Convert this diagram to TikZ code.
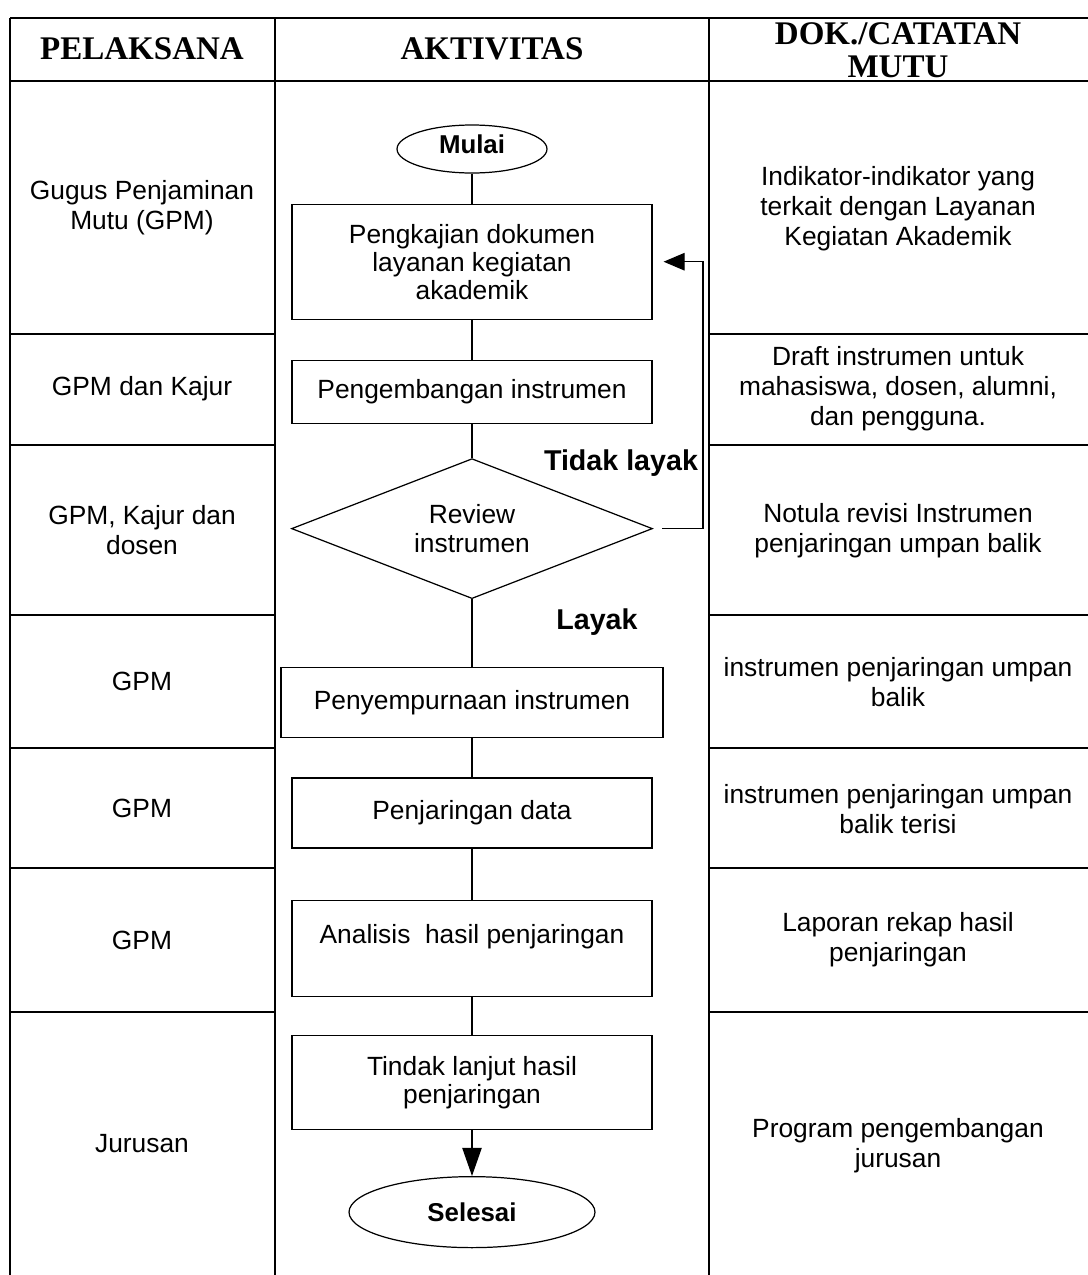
\documentclass[tikz,border=0pt]{standalone}
\usepackage{fontspec}
\setmainfont{Liberation Sans}
\newfontfamily\judulfont{Liberation Serif}
\usepackage{tikz}
\usetikzlibrary{shapes.geometric, arrows.meta, positioning}
\tikzset{
  tabel/.style={line width=1.3pt, draw=black},
  judul/.style={font=\judulfont\bfseries\fontsize{18.8}{19}\selectfont, align=center},
  sel/.style={font=\fontsize{15}{17}\selectfont, align=center},
  terminal/.style={ellipse, draw, line width=0.7pt, inner sep=0pt,
                   font=\bfseries\fontsize{14.7}{16}\selectfont},
  proses/.style={rectangle, draw, line width=0.7pt, inner sep=0pt, align=center,
                 minimum width=7.2cm, font=\fontsize{15}{16}\selectfont},
  keputusan/.style={diamond, draw, line width=0.7pt, inner sep=0pt, aspect=2.58,
                    minimum width=7.22cm, minimum height=2.8cm, align=center,
                    font=\fontsize{15}{16}\selectfont},
  ket/.style={font=\bfseries\fontsize{16.3}{18}\selectfont},
  alur/.style={line width=0.7pt},
  arrow/.style={-{Triangle[length=12pt, width=10pt]}, line width=0.7pt},
}

\begin{document}
\begin{tikzpicture}[x=0.02cm, y=-0.02cm]

  \useasboundingbox (0,0) rectangle (1088,1275);

  % ── Table grid ───────────────────────────────────────────────────────
  \draw[tabel] (10,18) -- (1088,18)
               (10,81) -- (1088,81)
               (10,18) -- (10,1275)
               (275,18) -- (275,1275)
               (709,18) -- (709,1275);
  \draw[tabel] (10,334) -- (275,334)   (709,334) -- (1088,334)
               (10,445) -- (275,445)   (709,445) -- (1088,445)
               (10,615) -- (275,615)   (709,615) -- (1088,615)
               (10,748) -- (275,748)   (709,748) -- (1088,748)
               (10,868) -- (275,868)   (709,868) -- (1088,868)
               (10,1012) -- (275,1012) (709,1012) -- (1088,1012);

  % ── Headers ──────────────────────────────────────────────────────────
  \node[judul] (hpel) at (142,49) {PELAKSANA};
  \node[judul] (hakt) at (492,49) {AKTIVITAS};
  \node[judul] (hdok) at (898,50) {DOK./CATATAN\\MUTU};

  % ── Pelaksana ────────────────────────────────────────────────────────
  \node[sel] (p1) at (142,208) {Gugus Penjaminan\\Mutu (GPM)};
  \node[sel] (p2) at (142,389) {GPM dan Kajur};
  \node[sel] (p3) at (142,530) {GPM, Kajur dan\\dosen};
  \node[sel] (p4) at (142,681) {GPM};
  \node[sel] (p5) at (142,808) {GPM};
  \node[sel] (p6) at (142,940) {GPM};
  \node[sel] (p7) at (142,1144) {Jurusan};

  % ── Dokumen / catatan mutu ───────────────────────────────────────────
  \node[sel] (d1) at (898,209) {Indikator-indikator yang\\terkait dengan Layanan\\Kegiatan Akademik};
  \node[sel] (d2) at (898,389) {Draft instrumen untuk\\mahasiswa, dosen, alumni,\\dan pengguna.};
  \node[sel] (d3) at (898,531) {Notula revisi Instrumen\\penjaringan umpan balik};
  \node[sel] (d4) at (898,682) {instrumen penjaringan umpan\\balik};
  \node[sel] (d5) at (898,809) {instrumen penjaringan umpan\\balik terisi};
  \node[sel] (d6) at (898,940) {Laporan rekap hasil\\penjaringan};
  \node[sel] (d7) at (898,1146) {Program pengembangan\\jurusan};

  % ── Aktivitas ────────────────────────────────────────────────────────
  \node[terminal, minimum width=3cm, minimum height=0.96cm] (mulai) at (472,149)
    {\raisebox{5pt}{Mulai}};

  \node[proses, minimum height=2.3cm, below=0.6cm of mulai] (kaji)
    {Pengkajian dokumen\\layanan kegiatan\\akademik};

  \node[proses, minimum height=1.26cm, below=0.8cm of kaji] (kembang)
    {Pengembangan instrumen};

  \node[keputusan, below=0.68cm of kembang] (review) {Review\\instrumen};

  \node[proses, minimum width=7.64cm, minimum height=1.4cm,
        below=1.36cm of review] (sempurna) {Penyempurnaan instrumen};

  \node[proses, minimum height=1.4cm, below=0.78cm of sempurna] (jaring)
    {Penjaringan data};

  \node[proses, minimum height=1.92cm, below=1.02cm of jaring] (analisis)
    {Analisis\ \ hasil penjaringan\\ \mbox{}};

  \node[proses, minimum height=1.88cm, below=0.76cm of analisis] (tindak)
    {Tindak lanjut hasil\\penjaringan};

  \node[terminal, minimum width=4.92cm, minimum height=1.42cm,
        below=0.92cm of tindak] (selesai) {Selesai};

  \node[ket] (tidak) at (621,463) {Tidak layak};
  \node[ket] (layak) at (597,622) {Layak};

  % ── Connectors ───────────────────────────────────────────────────────
  \draw[alur] (mulai) -- (kaji);
  \draw[alur] (kaji) -- (kembang);
  \draw[alur] (kembang) -- (review);
  \draw[alur] (review) -- (sempurna);
  \draw[alur] (sempurna) -- (jaring);
  \draw[alur] (jaring) -- (analisis);
  \draw[alur] (analisis) -- (tindak);
  \draw[arrow, -{Triangle[length=16pt, width=11pt]}] (tindak) -- (selesai);
  \draw[arrow] ([xshift=0.18cm]review.east) -- ++(0.82cm,0) |- ([xshift=0.22cm]kaji.east);

\end{tikzpicture}
\end{document}
